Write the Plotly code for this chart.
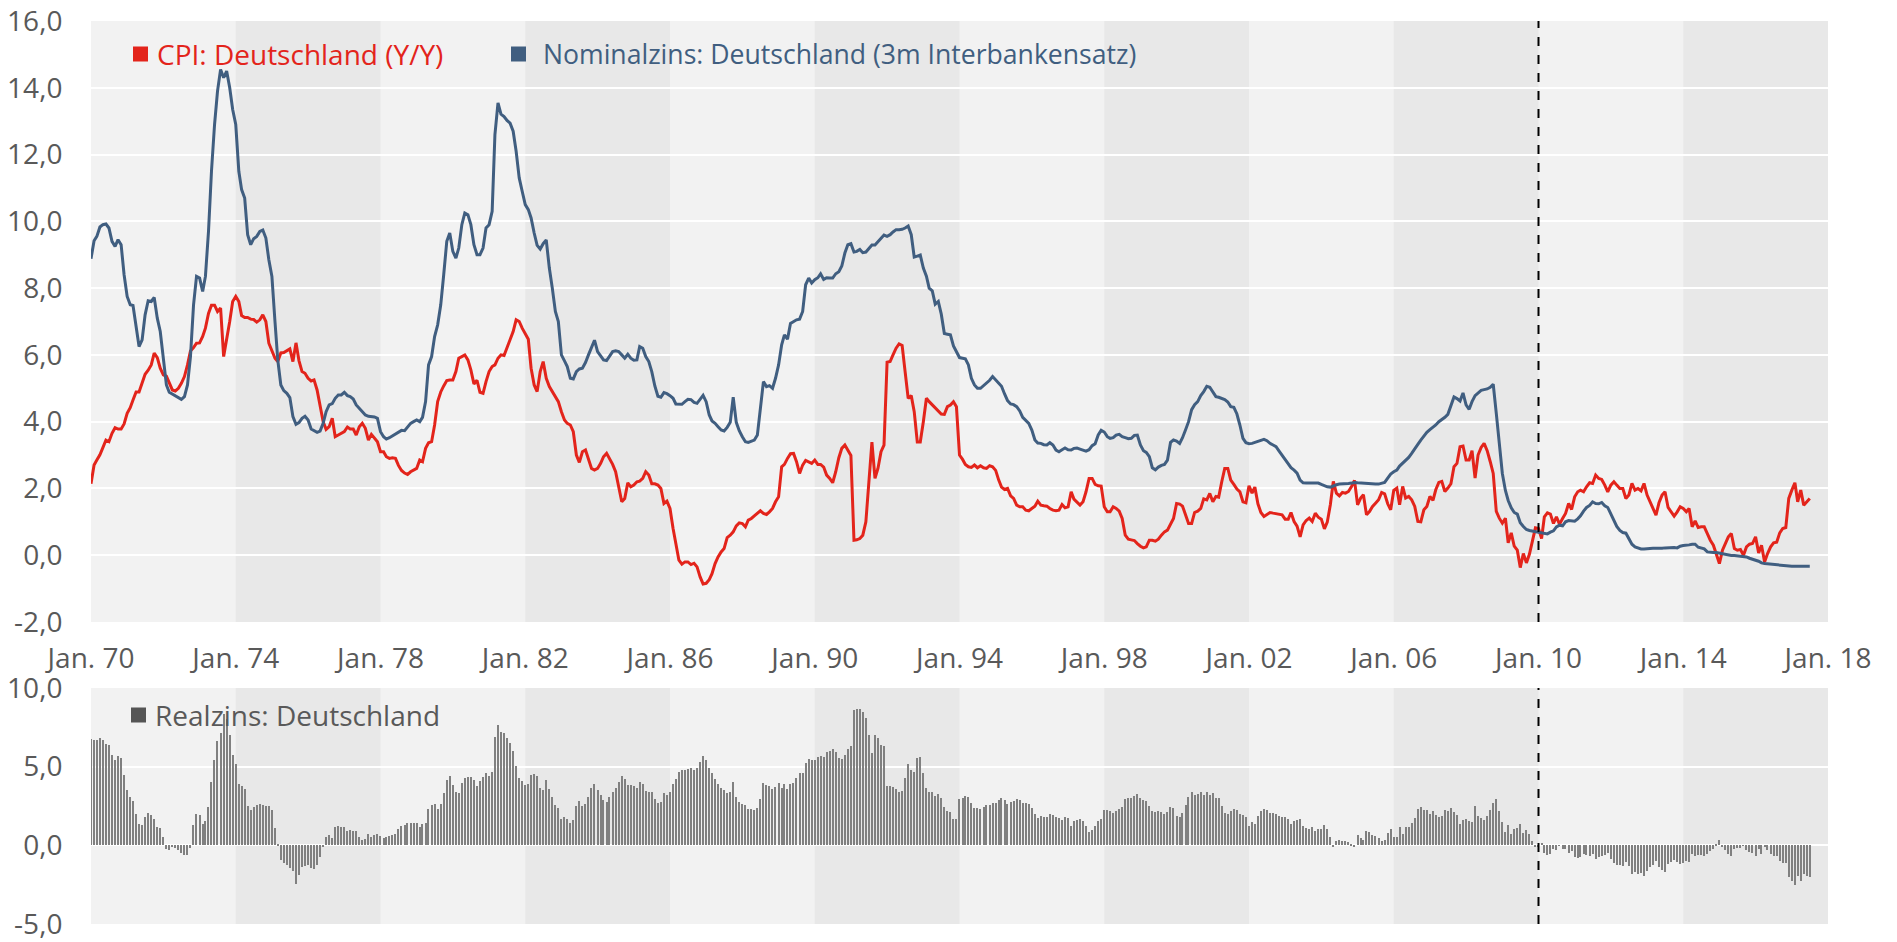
import numpy as np
import pandas as pd
import plotly.graph_objects as go

# ---------------- data (monthly, from Jan 1970) ----------------
START = "1970-01-01"

cpi_1970s = [
    2.14, 2.7, 2.85, 3.01, 3.22, 3.45, 3.4, 3.65, 3.82, 3.78, 3.78, 3.93,
    4.25, 4.42, 4.65, 4.89, 4.89, 5.14, 5.42, 5.54, 5.7, 6.05, 5.92, 5.6,
    5.4, 5.36, 5.18, 4.95, 4.92, 5.0, 5.15, 5.35, 5.7, 6.12, 6.22, 6.35,
    6.36, 6.55, 6.8, 7.24, 7.49, 7.49, 7.3, 7.4, 5.95, 6.45, 7.0, 7.6,
    7.75, 7.6, 7.18, 7.12, 7.12, 7.07, 7.06, 6.98, 7.05, 7.2, 7.0, 6.35,
    6.1, 5.9, 5.8, 6.06, 6.07, 6.12, 6.18, 5.8, 6.36, 5.83, 5.5, 5.45,
    5.3, 5.22, 5.25, 4.95, 4.45, 4.0, 3.77, 3.85, 4.1, 3.55, 3.6, 3.65,
    3.7, 3.84, 3.78, 3.78, 3.6, 3.85, 3.95, 3.8, 3.45, 3.62, 3.5, 3.4,
    3.1, 3.1, 2.95, 2.9, 2.92, 2.9, 2.69, 2.54, 2.46, 2.42, 2.5, 2.55,
    2.6, 2.85, 2.8, 3.2, 3.37, 3.4, 3.9, 4.6, 4.89, 5.07, 5.23, 5.25,
]
cpi_1980s = [
    5.25, 5.5, 5.9, 5.95, 6.0, 5.85, 5.55, 5.13, 5.24, 4.88, 4.85, 5.2,
    5.5, 5.65, 5.7, 5.9, 6.0, 5.98, 6.2, 6.45, 6.7, 7.05, 7.0, 6.8,
    6.65, 6.47, 5.6, 5.1, 4.9, 5.5, 5.8, 5.3, 5.05, 4.9, 4.75, 4.6,
    4.3, 4.05, 3.95, 3.9, 3.7, 3.0, 2.78, 3.1, 3.15, 2.9, 2.6, 2.55,
    2.6, 2.75, 2.95, 3.05, 2.88, 2.72, 2.5, 2.05, 1.6, 1.7, 2.17, 2.05,
    2.1, 2.2, 2.22, 2.3, 2.5, 2.4, 2.14, 2.14, 2.1, 2.0, 1.55, 1.62,
    1.4, 0.8, 0.3, -0.15, -0.27, -0.2, -0.2, -0.28, -0.24, -0.35, -0.65, -0.86,
    -0.84, -0.73, -0.55, -0.25, -0.05, 0.1, 0.2, 0.53, 0.6, 0.7, 0.88, 0.97,
    0.95, 0.85, 1.05, 1.1, 1.18, 1.25, 1.33, 1.25, 1.22, 1.3, 1.4, 1.6,
    1.75, 2.65, 2.72, 2.9, 3.04, 3.05, 2.8, 2.45, 2.7, 2.84, 2.8, 2.75,
]
cpi_1990s = [
    2.85, 2.72, 2.72, 2.64, 2.4, 2.3, 2.17, 2.5, 2.92, 3.2, 3.3, 3.15,
    2.99, 0.45, 0.46, 0.5, 0.6, 1.0, 2.19, 3.39, 2.3, 2.6, 3.1, 3.3,
    5.78, 5.8, 6.0, 6.2, 6.33, 6.28, 5.5, 4.7, 4.78, 4.3, 3.39, 3.39,
    4.0, 4.7, 4.6, 4.5, 4.41, 4.31, 4.23, 4.22, 4.45, 4.5, 4.6, 4.45,
    3.0, 2.87, 2.72, 2.65, 2.63, 2.7, 2.62, 2.68, 2.62, 2.6, 2.68, 2.65,
    2.54, 2.25, 2.04, 1.97, 2.0, 1.78, 1.7, 1.5, 1.45, 1.45, 1.35, 1.33,
    1.4, 1.47, 1.62, 1.5, 1.48, 1.47, 1.4, 1.35, 1.33, 1.35, 1.52, 1.42,
    1.45, 1.9, 1.68, 1.6, 1.5, 1.6, 1.9, 2.3, 2.3, 2.12, 2.08, 2.07,
    1.45, 1.3, 1.3, 1.45, 1.4, 1.32, 1.1, 0.6, 0.48, 0.46, 0.44, 0.35,
    0.27, 0.22, 0.25, 0.45, 0.45, 0.42, 0.48, 0.6, 0.7, 0.75, 0.95, 1.1,
]
cpi_2000s = [
    1.55, 1.53, 1.47, 1.2, 0.95, 0.95, 1.28, 1.32, 1.4, 1.69, 1.66, 1.85,
    1.6, 1.76, 1.74, 2.2, 2.6, 2.6, 2.25, 2.12, 1.98, 1.9, 1.6, 1.57,
    2.08, 1.86, 2.04, 1.54, 1.28, 1.16, 1.21, 1.28, 1.26, 1.24, 1.24, 1.21,
    1.08, 1.08, 1.28, 1.01, 0.87, 0.55, 0.91, 1.04, 1.11, 1.01, 1.26, 1.14,
    1.08, 0.79, 0.99, 1.51, 2.21, 1.86, 1.78, 1.88, 1.86, 1.91, 2.06, 2.24,
    1.51, 1.71, 1.81, 1.21, 1.31, 1.46, 1.56, 1.66, 1.88, 1.84, 1.54, 1.36,
    1.94, 2.01, 1.51, 2.06, 1.71, 1.76, 1.66, 1.46, 1.01, 1.0, 1.36, 1.46,
    1.76, 1.64, 1.96, 2.18, 2.21, 1.91, 2.01, 2.14, 2.65, 2.75, 3.25, 3.27,
    2.85, 2.85, 3.13, 2.31, 3.0, 3.23, 3.35, 3.13, 2.8, 2.45, 1.31, 1.11,
    0.96, 1.11, 0.37, 0.67, 0.27, 0.15, -0.37, 0.05, -0.23, 0.03, 0.43, 0.82,
]
cpi_2010s = [
    0.8, 0.5, 1.15, 1.27, 1.23, 0.95, 1.15, 0.93, 1.1, 1.25, 1.55, 1.37,
    1.75, 1.9, 1.95, 1.9, 2.05, 2.17, 2.15, 2.4, 2.3, 2.27, 2.1, 1.9,
    2.1, 2.2, 2.1, 2.0, 2.0, 1.7, 1.8, 2.15, 1.95, 2.0, 1.93, 2.15,
    1.8, 1.6, 1.43, 1.2, 1.57, 1.8, 1.9, 1.43, 1.3, 1.17, 1.3, 1.45,
    1.4, 1.3, 1.4, 0.85, 1.03, 0.83, 0.85, 0.85, 0.65, 0.45, 0.3, 0.05,
    -0.25, 0.15, 0.35, 0.55, 0.65, 0.2, 0.15, 0.17, 0.0, 0.25, 0.33, 0.35,
    0.55, 0.07, 0.3, -0.2, 0.05, 0.25, 0.37, 0.39, 0.67, 0.8, 0.83, 1.7,
    1.95, 2.17, 1.6, 1.95, 1.5, 1.6, 1.7,
]

nom_1970s = [
    8.88, 9.42, 9.55, 9.83, 9.9, 9.92, 9.8, 9.4, 9.25, 9.45, 9.3, 8.4,
    7.75, 7.5, 7.48, 6.9, 6.25, 6.45, 7.2, 7.62, 7.6, 7.72, 7.1, 6.7,
    5.9, 5.1, 4.88, 4.82, 4.77, 4.72, 4.67, 4.75, 5.1, 5.95, 7.5, 8.35,
    8.3, 7.9, 8.35, 9.7, 11.5, 12.9, 13.9, 14.55, 14.3, 14.5, 14.0, 13.35,
    12.9, 11.5, 10.95, 10.7, 9.6, 9.3, 9.48, 9.55, 9.7, 9.74, 9.5, 8.85,
    8.35, 7.0, 5.85, 5.1, 4.93, 4.85, 4.72, 4.15, 3.92, 3.97, 4.1, 4.16,
    4.05, 3.78, 3.74, 3.68, 3.72, 3.95, 4.3, 4.5, 4.54, 4.7, 4.8, 4.8,
    4.88, 4.78, 4.75, 4.68, 4.5, 4.4, 4.28, 4.2, 4.16, 4.15, 4.14, 4.1,
    3.7, 3.55, 3.48, 3.52, 3.58, 3.63, 3.7, 3.74, 3.73, 3.85, 3.95, 4.0,
    4.05, 4.0, 4.13, 4.6, 5.7, 5.95, 6.55, 6.9, 7.5, 8.4, 9.4, 9.65,
]
nom_1980s = [
    9.1, 8.9, 9.2, 9.9, 10.25, 10.2, 9.9, 9.3, 9.0, 9.0, 9.2, 9.8,
    9.9, 10.3, 12.6, 13.55, 13.21, 13.14, 13.02, 12.94, 12.7, 12.1, 11.3, 10.9,
    10.5, 10.35, 10.1, 9.65, 9.28, 9.17, 9.33, 9.44, 8.6, 8.0, 7.3, 7.0,
    6.0, 5.82, 5.65, 5.3, 5.28, 5.5, 5.58, 5.6, 5.77, 6.0, 6.24, 6.44,
    6.1, 5.95, 5.85, 5.83, 5.95, 6.1, 6.12, 6.1, 6.0, 5.9, 6.02, 5.9,
    5.84, 5.85, 6.25, 6.2, 5.95, 5.8, 5.5, 5.07, 4.76, 4.73, 4.87, 4.84,
    4.78, 4.7, 4.53, 4.53, 4.52, 4.6, 4.67, 4.66, 4.58, 4.55, 4.66, 4.79,
    4.6, 4.2, 4.02, 3.95, 3.85, 3.75, 3.72, 3.83, 3.98, 4.73, 3.98, 3.73,
    3.55, 3.4, 3.38, 3.41, 3.45, 3.6, 4.3, 5.2, 5.05, 5.08, 5.0, 5.3,
    5.7, 6.3, 6.6, 6.47, 6.94, 7.0, 7.05, 7.07, 7.3, 8.1, 8.3, 8.15,
]
nom_1990s = [
    8.25, 8.31, 8.43, 8.26, 8.31, 8.3, 8.3, 8.43, 8.49, 8.66, 9.05, 9.3,
    9.33, 9.08, 9.1, 9.16, 9.06, 9.08, 9.19, 9.29, 9.29, 9.4, 9.5, 9.59,
    9.55, 9.6, 9.68, 9.75, 9.75, 9.76, 9.8, 9.86, 9.6, 8.93, 8.96, 8.99,
    8.6, 8.36, 8.0, 7.92, 7.52, 7.6, 7.22, 6.64, 6.62, 6.6, 6.27, 6.1,
    5.92, 5.9, 5.88, 5.7, 5.3, 5.1, 5.0, 5.0, 5.08, 5.16, 5.24, 5.35,
    5.25, 5.12, 5.06, 4.83, 4.63, 4.53, 4.51, 4.45, 4.32, 4.13, 4.04, 3.95,
    3.75, 3.45, 3.36, 3.35, 3.31, 3.3, 3.37, 3.3, 3.15, 3.1, 3.16, 3.21,
    3.16, 3.15, 3.2, 3.21, 3.18, 3.14, 3.12, 3.16, 3.28, 3.34, 3.6, 3.74,
    3.69, 3.55, 3.5, 3.52, 3.6, 3.62, 3.55, 3.52, 3.49, 3.5, 3.59, 3.6,
    3.3, 3.13, 3.08, 2.95, 2.62, 2.56, 2.64, 2.69, 2.72, 2.85, 3.38, 3.45,
]
nom_2000s = [
    3.42, 3.35, 3.52, 3.76, 4.0, 4.36, 4.51, 4.6, 4.78, 4.9, 5.06, 5.03,
    4.9, 4.75, 4.73, 4.69, 4.66, 4.59, 4.45, 4.43, 4.23, 3.9, 3.5, 3.37,
    3.34, 3.35, 3.38, 3.42, 3.46, 3.47, 3.43, 3.35, 3.3, 3.25, 3.12, 3.0,
    2.86, 2.75, 2.62, 2.55, 2.46, 2.25, 2.17, 2.16, 2.16, 2.16, 2.16, 2.16,
    2.12, 2.08, 2.05, 2.04, 2.08, 2.11, 2.13, 2.13, 2.13, 2.15, 2.16, 2.18,
    2.17, 2.16, 2.15, 2.14, 2.13, 2.13, 2.13, 2.13, 2.15, 2.18, 2.31, 2.43,
    2.5, 2.55, 2.67, 2.76, 2.85, 2.93, 3.05, 3.17, 3.32, 3.45, 3.58, 3.68,
    3.76, 3.82, 3.9, 4.0, 4.06, 4.13, 4.22, 4.5, 4.74, 4.69, 4.62, 4.86,
    4.5, 4.37, 4.6, 4.78, 4.86, 4.94, 4.96, 4.98, 5.03, 5.12, 4.25, 3.3,
    2.45, 1.94, 1.64, 1.42, 1.28, 1.23, 0.97, 0.86, 0.77, 0.74, 0.72, 0.71,
]
nom_2010s = [
    0.68, 0.66, 0.64, 0.64, 0.69, 0.73, 0.85, 0.9, 0.88, 1.0, 1.04, 1.02,
    1.02, 1.09, 1.18, 1.32, 1.43, 1.49, 1.6, 1.55, 1.54, 1.58, 1.48, 1.43,
    1.22, 1.05, 0.86, 0.74, 0.68, 0.66, 0.5, 0.33, 0.25, 0.21, 0.19, 0.19,
    0.2, 0.22, 0.21, 0.21, 0.2, 0.21, 0.22, 0.23, 0.22, 0.23, 0.22, 0.27,
    0.29, 0.29, 0.31, 0.33, 0.33, 0.24, 0.21, 0.19, 0.1, 0.08, 0.08, 0.08,
    0.06, 0.05, 0.03, 0.0, -0.01, -0.01, -0.02, -0.03, -0.04, -0.05, -0.09, -0.13,
    -0.15, -0.18, -0.23, -0.25, -0.26, -0.27, -0.29, -0.3, -0.3, -0.31, -0.31, -0.32,
    -0.33, -0.33, -0.33, -0.33, -0.33, -0.33, -0.33,
]

tick_years = [1970, 1974, 1978, 1982, 1986, 1990, 1994, 1998, 2002, 2006, 2010, 2014, 2018]
tick_labels = ["Jan. 70", "Jan. 74", "Jan. 78", "Jan. 82", "Jan. 86", "Jan. 90", "Jan. 94",
               "Jan. 98", "Jan. 02", "Jan. 06", "Jan. 10", "Jan. 14", "Jan. 18"]
top_ticks = [-2, 0, 2, 4, 6, 8, 10, 12, 14, 16]
top_labels = ["-2,0", "0,0", "2,0", "4,0", "6,0", "8,0", "10,0", "12,0", "14,0", "16,0"]
bot_ticks = [-5, 0, 5, 10]
bot_labels = ["-5,0", "0,0", "5,0", "10,0"]
dark_bands = [(1974, 1978), (1982, 1986), (1990, 1994), (1998, 2002), (2006, 2010), (2014, 2018)]
marker_date = "2010-01-01"

name_cpi = "CPI: Deutschland (Y/Y)"
name_nom = "Nominalzins: Deutschland (3m Interbankensatz)"
name_real = "Realzins: Deutschland"

# ---------------- build ----------------
cpi = cpi_1970s + cpi_1980s + cpi_1990s + cpi_2000s + cpi_2010s
nom = nom_1970s + nom_1980s + nom_1990s + nom_2000s + nom_2010s
n = min(len(cpi), len(nom))
cpi = cpi[:n]
nom = nom[:n]
dates = pd.date_range(START, periods=n, freq="MS")
real = np.round(np.array(nom) - np.array(cpi), 2)

RED = "#E3241B"
BLUE = "#405E80"
BAR = "#808080"
TXT = "#595959"
FONT = "Open Sans"

W, H = 1897, 942
ML, MR, MT, MB = 91, 69, 21, 18
PW, PH = W - ML - MR, H - MT - MB


def px_x(px):
    return (px - ML) / PW


def px_y(py):
    return (H - MB - py) / PH


fig = go.Figure()
fig.add_trace(go.Scatter(x=dates, y=cpi, mode="lines", name=name_cpi,
                         line=dict(color=RED, width=3), xaxis="x", yaxis="y",
                         hoverinfo="skip"))
fig.add_trace(go.Scatter(x=dates, y=nom, mode="lines", name=name_nom,
                         line=dict(color=BLUE, width=3), xaxis="x", yaxis="y",
                         hoverinfo="skip"))
fig.add_trace(go.Bar(x=dates, y=real, name=name_real, marker=dict(color=BAR, line=dict(width=0)),
                     width=1.0e9, xaxis="x2", yaxis="y2", hoverinfo="skip"))

shapes = []
for a, b in dark_bands:
    for yr in ("y domain", "y2 domain"):
        shapes.append(dict(type="rect", xref="x", yref=yr, x0=f"{a}-01-01", x1=f"{b}-01-01",
                           y0=0, y1=1, fillcolor="#e8e8e8", line=dict(width=0), layer="below"))
for yr in ("y domain", "y2 domain"):
    shapes.append(dict(type="line", xref="x", yref=yr, x0=marker_date, x1=marker_date,
                       y0=0, y1=1, line=dict(color="black", width=2, dash="dash")))

# legend squares + texts: (square x0, x1, y centre, colour, text x, text, text colour, size)
legend_items = [
    (133, 148, 54, RED, 155, name_cpi, RED, 28),
    (511, 526, 54, BLUE, 541, name_nom, BLUE, 26.6),
    (131, 146, 715, "#555555", 153, name_real, TXT, 28),
]
annotations = []
for x0, x1, yc, col, tx, txt, tcol, fs in legend_items:
    half = (x1 - x0) / 2
    shapes.append(dict(type="rect", xref="paper", yref="paper",
                       x0=px_x(x0), x1=px_x(x1), y0=px_y(yc + half), y1=px_y(yc - half),
                       fillcolor=col, line=dict(width=0), layer="above"))
    annotations.append(dict(xref="paper", yref="paper", x=px_x(tx), y=px_y(yc),
                            xanchor="left", yanchor="middle", showarrow=False, text=txt,
                            font=dict(family=FONT, size=fs, color=tcol)))

top_dom = [px_y(622), 1.0]
bot_dom = [0.0, px_y(688)]

fig.update_layout(
    width=W, height=H, autosize=False,
    margin=dict(l=ML, r=MR, t=MT, b=MB, pad=0, autoexpand=False),
    paper_bgcolor="white", plot_bgcolor="#f2f2f2",
    showlegend=False, bargap=0,
    font=dict(family=FONT, size=28, color=TXT),
    shapes=shapes, annotations=annotations,
    xaxis=dict(domain=[0, 1], anchor="y", type="date", automargin=False,
               range=["1970-01-01", "2018-01-01"],
               tickvals=[f"{y}-01-01" for y in tick_years], ticktext=tick_labels,
               showgrid=False, zeroline=False, showline=False,
               ticks="outside", ticklen=11, tickcolor="rgba(0,0,0,0)",
               ticklabeloverflow="allow",
               tickfont=dict(family=FONT, size=28, color=TXT)),
    xaxis2=dict(domain=[0, 1], anchor="y2", type="date", matches="x", automargin=False,
                range=["1970-01-01", "2018-01-01"],
                showticklabels=False, showgrid=False, zeroline=False, showline=False, ticks=""),
    yaxis=dict(domain=top_dom, anchor="x", range=[-2, 16], automargin=False,
               tickvals=top_ticks, ticktext=top_labels,
               showgrid=True, gridcolor="white", gridwidth=2, zeroline=False, showline=False,
               ticks="outside", ticklen=22, tickcolor="rgba(0,0,0,0)",
               ticklabeloverflow="allow",
               tickfont=dict(family=FONT, size=28, color=TXT)),
    yaxis2=dict(domain=bot_dom, anchor="x2", range=[-5, 10], automargin=False,
                tickvals=bot_ticks, ticktext=bot_labels,
                showgrid=True, gridcolor="white", gridwidth=2, zeroline=False, showline=False,
                ticks="outside", ticklen=22, tickcolor="rgba(0,0,0,0)",
                ticklabeloverflow="allow",
                tickfont=dict(family=FONT, size=28, color=TXT)),
)

fig.write_html("out.html", config={"displayModeBar": False},
               post_script="document.body.style.margin='0px';")
